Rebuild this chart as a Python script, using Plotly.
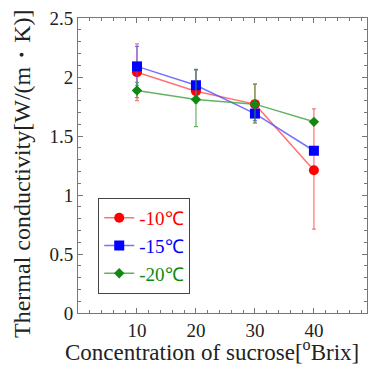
import plotly.graph_objects as go

conc = [10, 20, 30, 40]
names = ["-10℃", "-15℃", "-20℃"]
colors = ["#ff0000", "#0000ff", "#118811"]
line_colors = ["rgba(255,80,80,0.8)", "rgba(80,80,255,0.8)", "rgba(60,160,60,0.8)"]
symbols = ["circle", "square", "diamond"]
sizes = [10, 10, 8]

k_m10 = [2.04, 1.88, 1.77, 1.21]
err_up_m10 = [0.24, 0.18, 0.17, 0.52]
err_dn_m10 = [0.24, 0.10, 0.16, 0.50]

k_m15 = [2.09, 1.93, 1.69, 1.375]
err_up_m15 = [0.17, 0.135, 0.06, 0.03]
err_dn_m15 = [0.16, 0.13, 0.06, 0.03]

k_m20 = [1.885, 1.81, 1.77, 1.62]
err_up_m20 = [0.07, 0.25, 0.17, 0.0]
err_dn_m20 = [0.06, 0.23, 0.16, 0.0]

x_title = "Concentration of sucrose[<sup>o</sup>Brix]"
y_title = "Thermal conductivity[W/(m・K)]"

series = [(k_m10, err_up_m10, err_dn_m10), (k_m15, err_up_m15, err_dn_m15), (k_m20, err_up_m20, err_dn_m20)]

fig = go.Figure()
for i, (y, eu, ed) in enumerate(series):
    fig.add_trace(go.Scatter(
        x=conc, y=y, mode="lines+markers",
        name=f"<span style='color:{colors[i]}'>{names[i]}</span>",
        line=dict(color=line_colors[i], width=1.5),
        marker=dict(symbol=symbols[i], size=sizes[i], color=colors[i]),
        error_y=dict(type="data", symmetric=False, array=eu, arrayminus=ed,
                     color=line_colors[i], thickness=1.2, width=2),
    ))

serif = "Liberation Serif, Times New Roman, serif"
axis_common = dict(
    showline=True, linecolor="#777", linewidth=1, mirror="ticks",
    ticks="inside", ticklen=5, tickcolor="#777", showgrid=False, zeroline=False,
    tickfont=dict(family=serif, size=19, color="#222"), automargin=False,
)
fig.update_xaxes(range=[0, 49], tickvals=conc, ticktext=[str(c) for c in conc],
                 minor=dict(ticks="inside", ticklen=3, dtick=2, tick0=0, tickcolor="#777"),
                 **axis_common)
fig.update_yaxes(range=[0, 2.5], tickvals=[0, 0.5, 1, 1.5, 2, 2.5],
                 ticktext=["0", "0.5", "1", "1.5", "2", "2.5"],
                 minor=dict(ticks="inside", ticklen=3, dtick=0.1, tick0=0, tickcolor="#777"),
                 **axis_common)

fig.add_annotation(text=x_title, xref="paper", yref="paper", x=0.4637, y=-0.126,
                   xanchor="center", yanchor="middle", showarrow=False,
                   font=dict(family=serif, size=23, color="#222"))
fig.add_annotation(text=y_title, xref="paper", yref="paper", x=-0.1938, y=0.4746,
                   xanchor="center", yanchor="middle", showarrow=False, textangle=-90,
                   font=dict(family=serif, size=24, color="#222"))

fig.update_layout(
    width=372, height=365,
    margin=dict(l=78, r=5, t=18, b=52),
    paper_bgcolor="white", plot_bgcolor="white",
    showlegend=True,
    legend=dict(x=0.07, y=0.39, xanchor="left", yanchor="top",
                bgcolor="white", bordercolor="#444", borderwidth=1,
                font=dict(family=serif, size=19), itemwidth=30, tracegroupgap=0),
)
fig.write_html("out.html", config={"displayModeBar": False},
               post_script="document.body.style.margin='0';")
